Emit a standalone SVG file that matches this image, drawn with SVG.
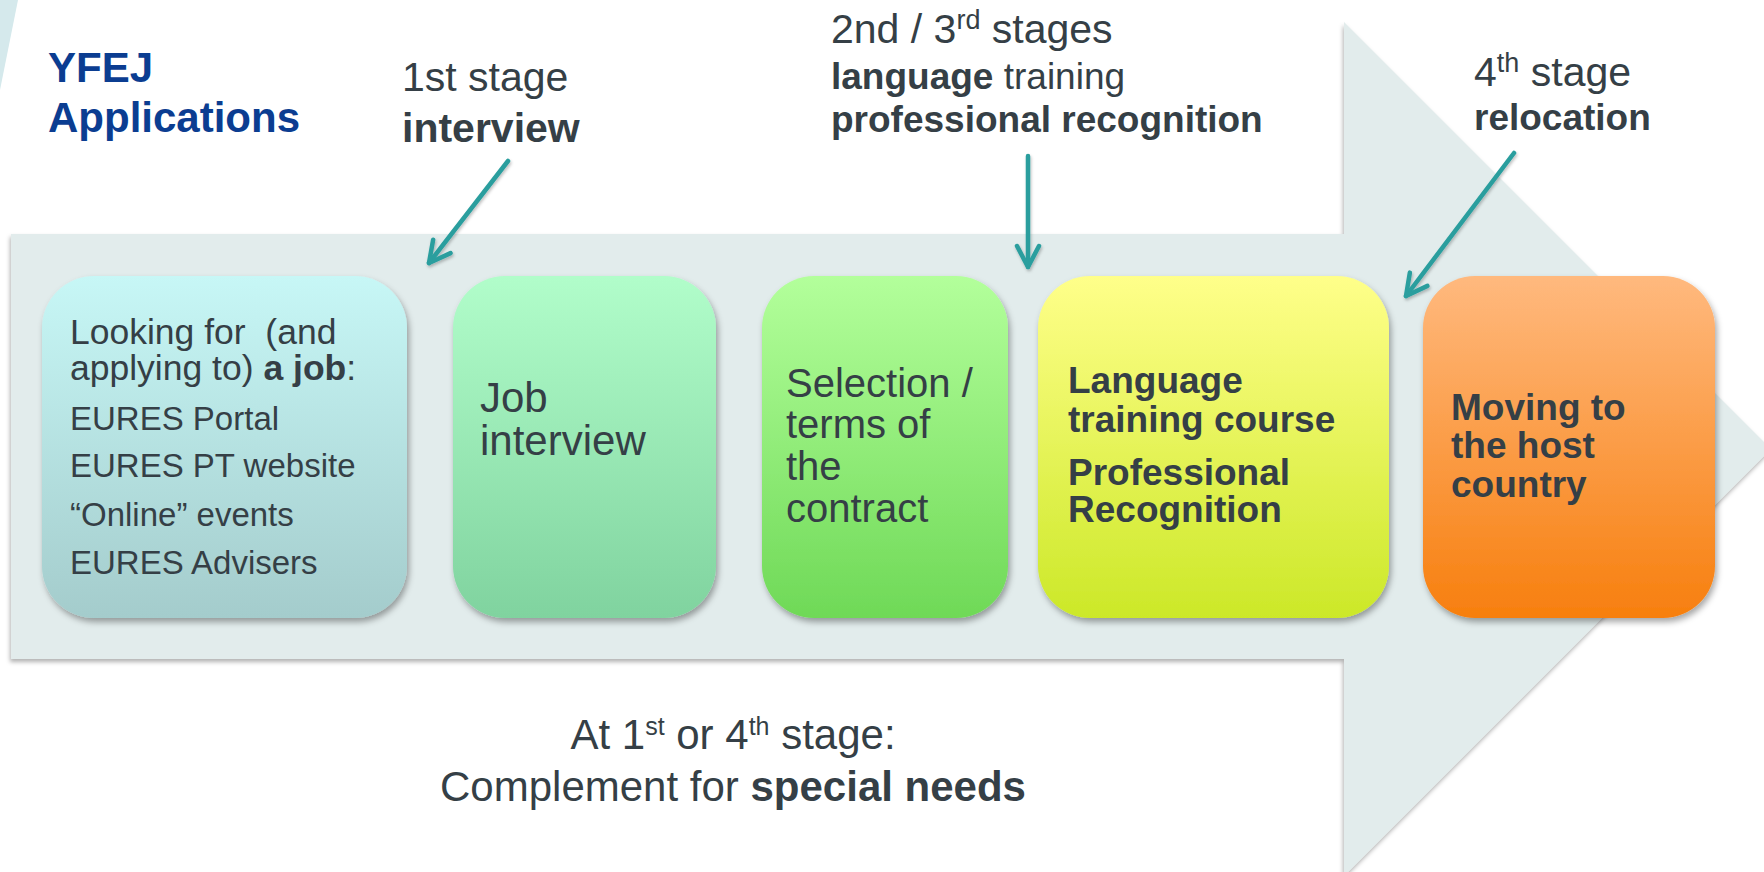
<svg xmlns="http://www.w3.org/2000/svg" width="1764" height="872" viewBox="0 0 1764 872">
<style>
text{font-family:"Liberation Sans",Arial,sans-serif;fill:#353f46}
.t{fill:#0b3d91;font-weight:bold;font-size:42px}
.b{font-weight:bold}
.conn{stroke:#2a9e9e;stroke-width:4.5;fill:none;stroke-linecap:round;marker-end:url(#ah)}
</style>
<defs>
<filter id="bodysh" x="-5%" y="-5%" width="110%" height="115%">
<feDropShadow dx="-1" dy="3" stdDeviation="2" flood-color="#000" flood-opacity="0.3"/>
</filter>
<filter id="boxsh" x="-10%" y="-10%" width="125%" height="125%">
<feDropShadow dx="2" dy="4" stdDeviation="3" flood-color="#000" flood-opacity="0.35"/>
</filter>
<filter id="arsh" x="-20%" y="-20%" width="140%" height="140%">
<feDropShadow dx="1" dy="2" stdDeviation="1.5" flood-color="#000" flood-opacity="0.25"/>
</filter>
<marker id="ah" markerUnits="userSpaceOnUse" markerWidth="40" markerHeight="40" viewBox="-30 -20 40 40" refX="0" refY="0" orient="auto">
<path d="M-21,-11 L0,0 L-21,11" fill="none" stroke="#2a9e9e" stroke-width="4.5" stroke-linecap="round" stroke-linejoin="round"/>
</marker>
<linearGradient id="g1" x1="0" y1="0" x2="0" y2="1"><stop offset="0" stop-color="#c7f7f6"/><stop offset="1" stop-color="#a4cccc"/></linearGradient>
<linearGradient id="g2" x1="0" y1="0" x2="0" y2="1"><stop offset="0" stop-color="#b1fdca"/><stop offset="1" stop-color="#80d39f"/></linearGradient>
<linearGradient id="g3" x1="0" y1="0" x2="0" y2="1"><stop offset="0" stop-color="#b3ff9b"/><stop offset="1" stop-color="#6fd957"/></linearGradient>
<linearGradient id="g4" x1="0" y1="0" x2="0" y2="1"><stop offset="0" stop-color="#ffff8a"/><stop offset="1" stop-color="#cce828"/></linearGradient>
<linearGradient id="g5" x1="0" y1="0" x2="0" y2="1"><stop offset="0" stop-color="#ffb97e"/><stop offset="1" stop-color="#f77f0e"/></linearGradient>
</defs>
<rect width="1764" height="872" fill="#ffffff"/>
<polygon points="0,0 18,0 0,90" fill="#d5e9ec"/>
<polygon id="bigarrow" points="11,234 1344,234 1344,22 1771,449 1344,876 1344,659 11,659" fill="#e2ecec" filter="url(#bodysh)"/>

<g id="labels">
<text class="t" x="48" y="82">YFEJ</text>
<text class="t" x="48" y="132">Applications</text>
<text x="402" y="91" font-size="41">1st stage</text>
<text x="402" y="142" font-size="41" class="b">interview</text>
<text x="831" y="43" font-size="41">2nd / 3<tspan font-size="27" dy="-14">rd</tspan><tspan dy="14"> stages</tspan></text>
<text x="831" y="89" font-size="37"><tspan class="b">language</tspan> training</text>
<text x="831" y="132" font-size="37" class="b">professional recognition</text>
<text x="1474" y="86" font-size="41">4<tspan font-size="27" dy="-14">th</tspan><tspan dy="14"> stage</tspan></text>
<text x="1474" y="130" font-size="37" class="b">relocation</text>
<text x="733" y="749" font-size="42" text-anchor="middle">At 1<tspan font-size="25" dy="-14">st</tspan><tspan dy="14"> or 4</tspan><tspan font-size="25" dy="-14">th</tspan><tspan dy="14"> stage:</tspan></text>
<text x="733" y="801" font-size="42" text-anchor="middle">Complement for <tspan class="b">special needs</tspan></text>
</g>

<g id="node1">
<rect x="42" y="276" width="365" height="342" rx="52" fill="url(#g1)" filter="url(#boxsh)"/>
<text x="70" y="344" font-size="35.5" xml:space="preserve" style="white-space:pre">Looking for  (and</text>
<text x="70" y="380" font-size="35.5">applying to) <tspan class="b">a job</tspan>:</text>
<text x="70" y="430" font-size="33">EURES Portal</text>
<text x="70" y="477" font-size="33">EURES PT website</text>
<text x="70" y="526" font-size="33">“Online” events</text>
<text x="70" y="574" font-size="33">EURES Advisers</text>
</g>
<g id="node2">
<rect x="453" y="276" width="263" height="342" rx="52" fill="url(#g2)" filter="url(#boxsh)"/>
<text x="480" y="412" font-size="42">Job</text>
<text x="480" y="455" font-size="42">interview</text>
</g>
<g id="node3">
<rect x="762" y="276" width="246" height="342" rx="52" fill="url(#g3)" filter="url(#boxsh)"/>
<text x="786" y="397" font-size="40">Selection /</text>
<text x="786" y="438" font-size="40">terms of</text>
<text x="786" y="480" font-size="40">the</text>
<text x="786" y="522" font-size="40">contract</text>
</g>
<g id="node4">
<rect x="1038" y="276" width="351" height="342" rx="52" fill="url(#g4)" filter="url(#boxsh)"/>
<text x="1068" y="393" font-size="37" class="b">Language</text>
<text x="1068" y="432" font-size="37" class="b">training course</text>
<text x="1068" y="485" font-size="37" class="b">Professional</text>
<text x="1068" y="522" font-size="37" class="b">Recognition</text>
</g>
<g id="node5">
<rect x="1423" y="276" width="292" height="342" rx="52" fill="url(#g5)" filter="url(#boxsh)"/>
<text x="1451" y="420" font-size="37" class="b">Moving to</text>
<text x="1451" y="458" font-size="37" class="b">the host</text>
<text x="1451" y="497" font-size="37" class="b">country</text>
</g>

<g id="connectors" filter="url(#arsh)">
<line class="conn" x1="508" y1="161" x2="429" y2="263"/>
<line class="conn" x1="1028" y1="156" x2="1028" y2="267"/>
<line class="conn" x1="1514" y1="153" x2="1406" y2="296"/>
</g>
</svg>
